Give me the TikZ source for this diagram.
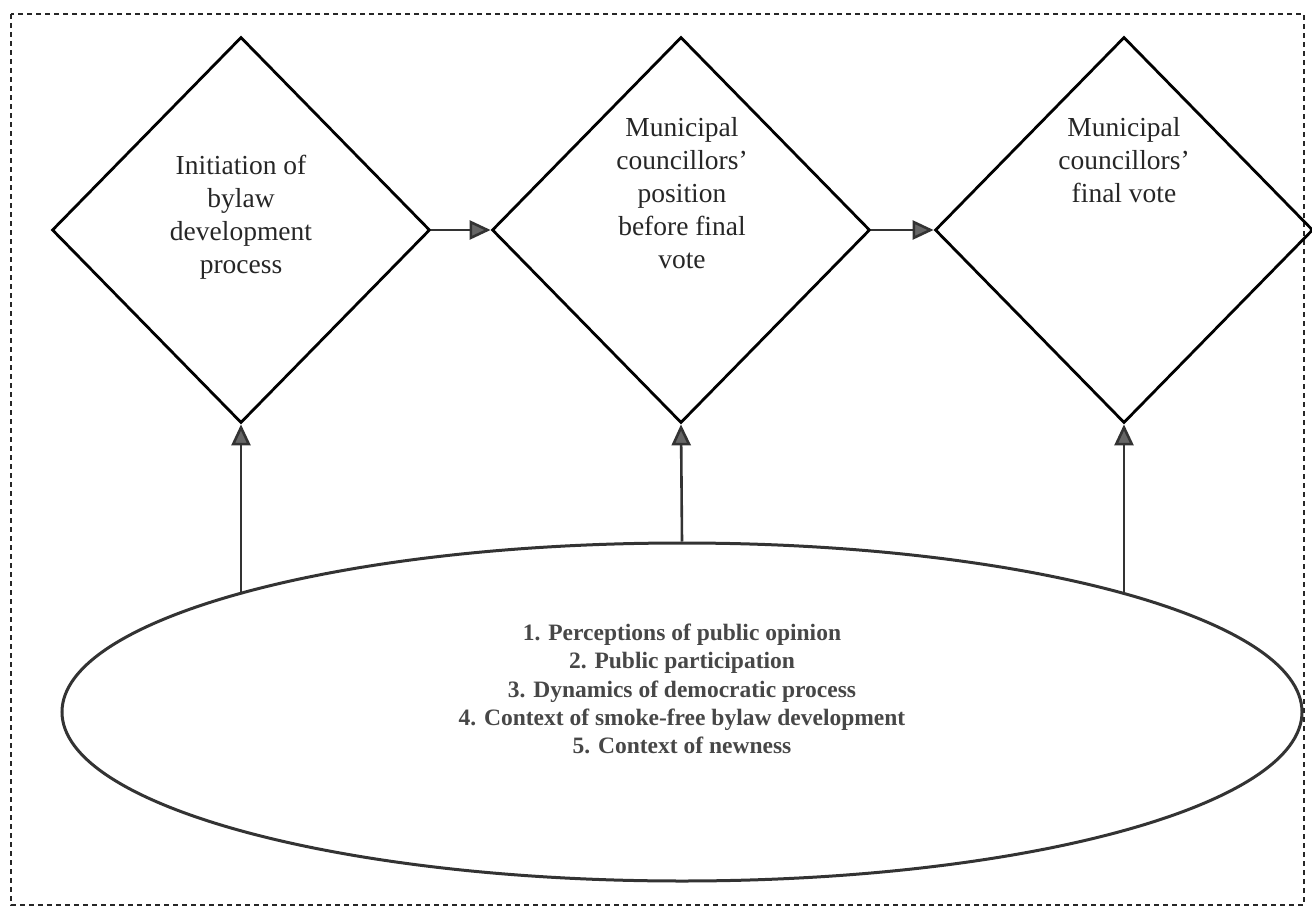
\documentclass[tikz,border=0pt]{standalone}
\usepackage{fontspec}
\setmainfont{Liberation Serif}
\usetikzlibrary{shapes.geometric,arrows.meta}

\begin{document}
\begin{tikzpicture}[x=1pt,y=-1pt,
  frame/.style={draw=black!85,line width=1.8pt,dash pattern=on 5pt off 4pt},
  stage/.style={shape=diamond,draw=black,line width=2.8pt,inner sep=0pt,
                minimum width=378pt,minimum height=386pt},
  stagetext/.style={align=center,font=\fontsize{27.5}{33}\selectfont,text=black!85},
  factors/.style={shape=ellipse,draw=black!80,line width=3pt,inner sep=0pt,
                  minimum width=1240pt,minimum height=338pt},
  factortext/.style={align=center,font=\fontsize{23.5}{28.3}\selectfont\bfseries,text=black!72},
  arr/.style={draw=black!80,line width=2.6pt,
              -{Triangle[length=21pt,width=19pt,fill=black!60]}}
]
\useasboundingbox (0,0) rectangle (1312,907);

% dashed frame round the whole figure
\draw[frame] (11,14) rectangle (1304,905);

% the three stages
\node[stage] (d1) at (241,230) {};
\node[stage] (d2) at (681,230) {};
\node[stage] (d3) at (1124,230) {};

\node[stagetext] (t1) at (241,217) {Initiation of\\bylaw\\development\\process};
\node[stagetext] (t2) at (682,193) {Municipal\\councillors'\\position\\before final\\vote};
\node[stagetext] (t3) at (1124,160) {Municipal\\councillors'\\final vote};

% influencing factors
\node[factors] (ell) at (682,712) {};
\node[factortext] (ft) at (682,689) {1. Perceptions of public opinion\\
  2. Public participation\\
  3. Dynamics of democratic process\\
  4. Context of smoke-free bylaw development\\
  5. Context of newness};

% connectors
\draw[arr] (d1.east) -- (d2.west);
\draw[arr] (d2.east) -- (d3.west);
\draw[arr] (d1.south |- ell.165) -- (d1.south);
\draw[arr] (ell.north) -- (d2.south);
\draw[arr] (d3.south |- ell.15) -- (d3.south);
\end{tikzpicture}
\end{document}
